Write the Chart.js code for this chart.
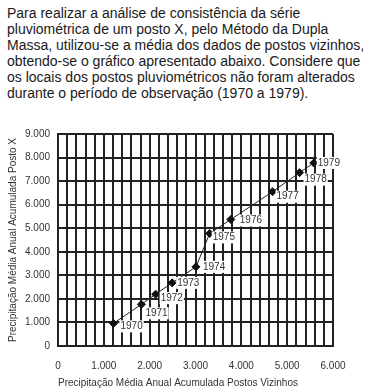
<!DOCTYPE html>
<html>
<head>
<meta charset="utf-8">
<script src="https://cdn.jsdelivr.net/npm/chart.js@4.4.0/dist/chart.umd.min.js"></script>
<style>
  html, body { margin: 0; padding: 0; background: #fff; }
  body { width: 391px; height: 392px; position: relative; overflow: hidden; }
  #enunciado {
    position: absolute; left: 7px; top: 5px;
    font-family: "Liberation Sans", Arial, sans-serif; font-size: 14px; line-height: 16px;
    color: #1a1a1a; white-space: nowrap;
  }
  #grafico { position: absolute; left: 0; top: 120px; }
</style>
</head>
<body>
<div id="enunciado">
Para realizar a análise de consistência da série<br>
pluviométrica de um posto X, pelo Método da Dupla<br>
Massa, utilizou-se a média dos dados de postos vizinhos,<br>
obtendo-se o gráfico apresentado abaixo. Considere que<br>
os locais dos postos pluviométricos não foram alterados<br>
durante o período de observação (1970 a 1979).
</div>
<canvas id="grafico" width="391" height="272"></canvas>
<script>
// dados
const anos = ['1970', '1971', '1972', '1973', '1974', '1975', '1976', '1977', '1978', '1979'];
const vizinhos = [1210, 1820, 2130, 2490, 3010, 3310, 3770, 4680, 5270, 5580];
const postoX = [960, 1770, 2200, 2680, 3360, 4780, 5370, 6550, 7360, 7770];

// deslocamento de cada rótulo em relação ao ponto (px)
const offsets = [[7, 3], [4, 9], [5, 4], [5, 0], [7, 0], [3, 4], [9, 1], [4, 5], [5, 7], [4, 0]];

const fmt = v => String(v).replace(/\B(?=(\d{3})+(?!\d))/g, '.');
const FONT = '"Liberation Sans", Arial, sans-serif';

const rotulosAnos = {
    id: 'rotulosAnos',
    afterDatasetsDraw(chart) {
        const ctx = chart.ctx;
        const meta = chart.getDatasetMeta(0);
        ctx.save();
        ctx.font = '10px ' + FONT;
        ctx.textBaseline = 'middle';
        ctx.textAlign = 'left';
        meta.data.forEach((pt, i) => {
            const x = pt.x + offsets[i][0];
            const y = pt.y + offsets[i][1];
            const w = ctx.measureText(anos[i]).width;
            ctx.fillStyle = '#fff';
            ctx.fillRect(x - 1, y - 6, w + 2, 12);
            ctx.fillStyle = '#333';
            ctx.fillText(anos[i], x, y);
        });
        ctx.restore();
    }
};

new Chart(document.getElementById('grafico'), {
    type: 'scatter',
    data: {
        datasets: [{
            data: vizinhos.map((v, i) => ({ x: v, y: postoX[i] })),
            showLine: true,
            borderColor: '#222',
            borderWidth: 1,
            pointStyle: 'rectRot',
            pointRadius: 4,
            pointBackgroundColor: '#111',
            pointBorderColor: '#111',
            pointBorderWidth: 1
        }]
    },
    options: {
        responsive: false,
        animation: false,
        devicePixelRatio: 1,
        layout: { padding: { top: 14, right: 58, left: 0, bottom: 0 } },
        plugins: { legend: { display: false }, tooltip: { enabled: false } },
        scales: {
            x: {
                type: 'linear', min: 0, max: 6000,
                afterFit: s => { s.height = 46; },
                grid: { color: '#222', lineWidth: 2, drawTicks: false },
                border: { color: '#222', width: 2 },
                ticks: {
                    stepSize: 200, autoSkip: false, maxRotation: 0, padding: 14,
                    color: '#333', font: { size: 10, family: FONT },
                    callback: v => (v % 1000 === 0 ? fmt(v) : '')
                },
                title: {
                    display: true, align: 'start',
                    text: 'Precipitação Média Anual Acumulada Postos Vizinhos',
                    color: '#333', font: { size: 10, family: FONT },
                    padding: { top: 0, bottom: 3 }
                }
            },
            y: {
                type: 'linear', min: 0, max: 9000,
                afterFit: s => { s.width = 58; },
                grid: { color: '#222', lineWidth: 2, drawTicks: false },
                border: { color: '#222', width: 2 },
                ticks: {
                    stepSize: 1000, padding: 8,
                    color: '#333', font: { size: 10, family: FONT },
                    callback: v => fmt(v)
                },
                title: {
                    display: true,
                    text: 'Precipitação Média Anual Acumulada Posto X',
                    color: '#333', font: { size: 10, family: FONT },
                    padding: { top: 7, bottom: 0 }
                }
            }
        }
    },
    plugins: [rotulosAnos]
});
</script>
</body>
</html>
